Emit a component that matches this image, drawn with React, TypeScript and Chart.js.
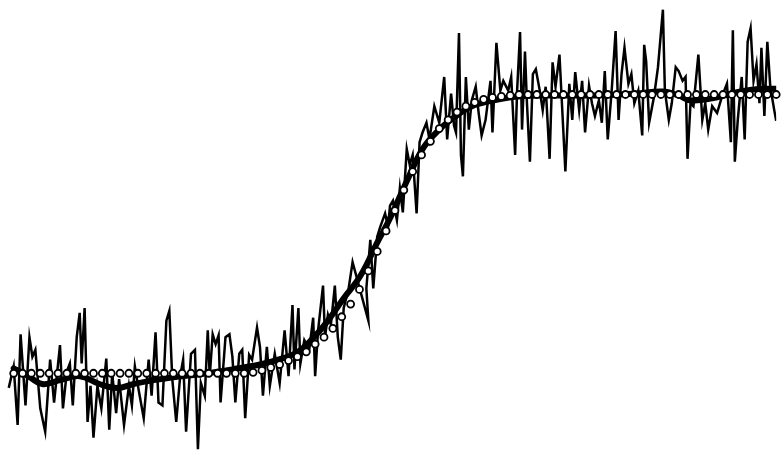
import { useEffect, useRef } from "react";
import { Chart, registerables } from "chart.js";

Chart.register(...registerables);

// Noisy measured signal: [time, level]
const noisySamples: [number, number][] = [
  [3, 67], [8, 89], [12, 29], [15, 122], [20, 49], [24, 119], [27, 99], [30, 106], [35, 46], [40, 22],
  [45, 96], [49, 52], [55, 111], [58, 46], [62, 84], [65, 92], [68, 49], [72, 119], [75, 144], [77, 92],
  [80, 149], [83, 32], [86, 69], [89, 16], [93, 69], [97, 46], [102, 97], [105, 24], [108, 82], [112, 41],
  [115, 76], [120, 29], [125, 69], [128, 49], [131, 89], [135, 64], [140, 36], [145, 96], [148, 59], [152, 124],
  [155, 52], [159, 49], [163, 136], [166, 146], [169, 76], [173, 32], [177, 79], [180, 96], [183, 22], [188, 102],
  [192, 106], [195, 4], [198, 72], [202, 59], [205, 126], [207, 79], [210, 122], [213, 112], [216, 121], [218, 52],
  [223, 119], [227, 122], [230, 99], [233, 52], [237, 102], [240, 106], [243, 36], [247, 101], [250, 96], [255, 129],
  [258, 109], [261, 59], [265, 109], [268, 69], [273, 102], [278, 72], [283, 126], [287, 79], [291, 152], [293, 86],
  [297, 149], [299, 92], [303, 116], [308, 106], [312, 139], [314, 79], [317, 126], [322, 172], [324, 119], [327, 142],
  [330, 132], [334, 172], [337, 119], [340, 96], [343, 149], [348, 169], [352, 196], [368, 136], [366, 169], [370, 219],
  [373, 169], [377, 222], [380, 232], [385, 246], [388, 232], [390, 254], [393, 259], [397, 239], [400, 272], [403, 247],
  [407, 312], [410, 296], [413, 306], [417, 246], [420, 319], [423, 329], [427, 339], [430, 322], [435, 356], [440, 339],
  [445, 386], [448, 322], [452, 369], [455, 336], [457, 329], [460, 431], [462, 306], [464, 284], [467, 386], [470, 332],
  [473, 362], [477, 376], [480, 349], [483, 326], [487, 342], [492, 382], [494, 329], [498, 421], [502, 372], [505, 382],
  [510, 372], [513, 386], [517, 306], [519, 372], [522, 432], [524, 332], [527, 412], [529, 359], [532, 299], [535, 389],
  [538, 394], [542, 372], [545, 352], [548, 376], [552, 302], [555, 401], [558, 376], [562, 409], [565, 349], [568, 289],
  [572, 379], [575, 342], [578, 391], [582, 352], [585, 382], [588, 329], [592, 377], [595, 359], [598, 346], [602, 362],
  [605, 339], [608, 392], [611, 322], [615, 372], [619, 433], [622, 342], [625, 389], [628, 416], [632, 379], [635, 389],
  [638, 359], [642, 372], [646, 326], [648, 419], [650, 402], [653, 339], [658, 366], [662, 396], [667, 455], [669, 372],
  [673, 342], [676, 359], [680, 396], [683, 392], [687, 382], [690, 386], [692, 302], [695, 359], [698, 356], [703, 409],
  [707, 342], [710, 359], [713, 332], [717, 356], [722, 349], [727, 366], [732, 379], [736, 319], [738, 434], [740, 299],
  [743, 342], [747, 386], [750, 322], [753, 422], [756, 436], [759, 382], [762, 399], [765, 359], [767, 416], [770, 346],
  [773, 422], [776, 376], [780, 352], [782, 341],
];

// Smoothed fit: [time, level]
const smoothedSamples: [number, number][] = [
  [8, 87], [20, 81], [37, 71], [55, 75], [75, 79], [95, 71], [113, 67], [130, 71], [150, 75], [170, 78],
  [197, 81], [230, 86], [258, 91], [280, 97], [295, 103], [310, 116], [327, 136], [343, 159], [360, 182], [377, 216],
  [390, 241], [407, 279], [423, 312], [440, 332], [457, 346], [473, 356], [490, 361], [520, 366], [560, 367], [600, 367],
  [640, 369], [667, 371], [683, 367], [695, 362], [717, 364], [737, 369], [757, 373], [782, 374],
];

// Underlying model curve, sampled on a regular time grid
const modelStartTime = 8;
const modelTimeStep = 9;
const modelLevels: number[] = [
  82, 82, 82, 82, 82, 82, 82, 82, 82, 82,
  82, 82, 82, 82, 82, 82, 82, 82, 82, 82,
  82, 82, 82, 82, 82, 82, 82, 83, 85, 88,
  91, 95, 99, 104, 112, 119, 128, 140, 153, 168,
  187, 207, 228, 249, 270, 289, 306, 320, 333, 342,
  350, 356, 360, 363, 365, 366, 367, 368, 368, 368,
  368, 368, 368, 368, 368, 368, 368, 368, 368, 368,
  368, 368, 368, 368, 368, 368, 368, 368, 368, 368,
  368, 368, 368, 368, 368, 368, 368,
];

export default function App() {
  const canvasRef = useRef<HTMLCanvasElement>(null);

  useEffect(() => {
    document.body.style.margin = "0";
    const canvas = canvasRef.current;
    if (!canvas) return;
    const chart = new Chart(canvas, {
      type: "line",
      data: {
        datasets: [
          {
            label: "model",
            data: modelLevels.map((v, k) => ({ x: modelStartTime + modelTimeStep * k, y: v })),
            showLine: false,
            pointRadius: 3.5,
            pointBorderWidth: 1.8,
            pointBackgroundColor: "#ffffff",
            pointBorderColor: "#000000",
            borderColor: "#000000",
            clip: false,
          },
          {
            label: "smoothed",
            data: smoothedSamples.map(([x, y]) => ({ x, y })),
            borderColor: "#000000",
            borderWidth: 6,
            tension: 0.4,
            pointRadius: 0,
            borderCapStyle: "round",
            borderJoinStyle: "round",
          },
          {
            label: "measured",
            data: noisySamples.map(([x, y]) => ({ x, y })),
            borderColor: "#000000",
            borderWidth: 2.5,
            tension: 0,
            pointRadius: 0,
          },
        ],
      },
      options: {
        animation: false,
        responsive: false,
        maintainAspectRatio: false,
        events: [],
        layout: { padding: 0 },
        plugins: { legend: { display: false }, tooltip: { enabled: false } },
        scales: {
          x: { type: "linear", display: false, min: 0, max: 782 },
          y: { type: "linear", display: false, min: 0, max: 459 },
        },
      },
    });
    return () => chart.destroy();
  }, []);

  return (
    <div style={{ position: "fixed", left: 0, top: 0, width: 782, height: 459, background: "#ffffff" }}>
      <canvas ref={canvasRef} width={782} height={459} style={{ display: "block" }} />
    </div>
  );
}
